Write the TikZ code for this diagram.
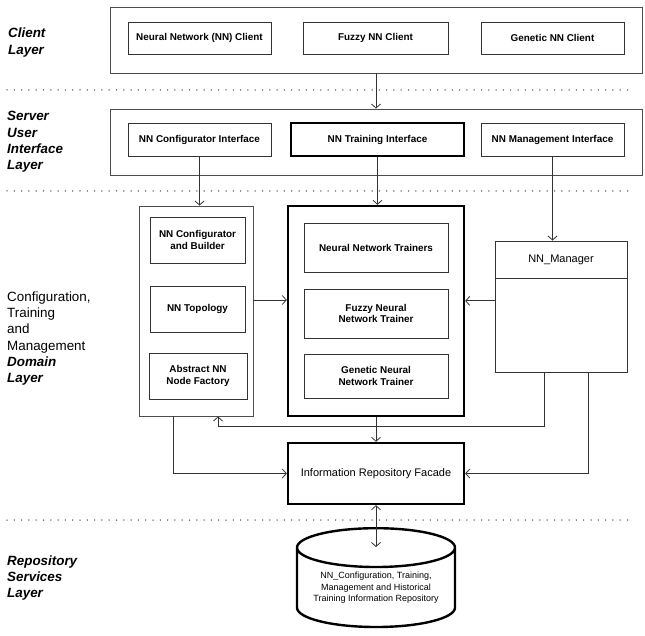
\documentclass[tikz,border=0pt]{standalone}
\usepackage{fontspec}
\setmainfont{Liberation Sans}
\usetikzlibrary{arrows.meta,shapes.geometric}

\tikzset{
  layerbox/.style={draw=black!70, line width=0.9pt, inner sep=0pt},
  compbox/.style={draw=black!80, line width=0.9pt, align=center, inner sep=1pt,
    font=\fontsize{9.9}{11.7}\selectfont\bfseries},
  thickbox/.style={draw=black, line width=2.4pt},
  plainbox/.style={draw=black!80, line width=0.9pt, align=center, inner sep=1pt,
    font=\fontsize{11}{13}\selectfont},
  layerlabel/.style={anchor=west, align=left, inner sep=0pt,
    font=\fontsize{13.4}{16.3}\selectfont},
  layersep/.style={black!70, line width=1.5pt, line cap=round, dash pattern=on 0pt off 7.3pt},
  conn/.style={draw=black!80, line width=0.8pt},
}

\begin{document}
\begin{tikzpicture}[x=1pt,y=-1pt,>={Straight Barb[length=4pt,width=9pt]}]
\useasboundingbox (0,0) rectangle (645,636);

% Layer separators
\draw[layersep] (7,90) -- (634,90);
\draw[layersep] (7,191) -- (634,191);
\draw[layersep] (7,520) -- (634,520);

% Layer names
\node[layerlabel, font=\fontsize{13.4}{16.3}\selectfont\bfseries\itshape] (clientlbl) at (8,42.5) {Client\\Layer};
\node[layerlabel, font=\fontsize{13.4}{16.3}\selectfont\bfseries\itshape] (serverlbl) at (7,142) {Server\\User\\Interface\\Layer};
\node[layerlabel] (domainlbl) at (7,338.5) {Configuration,\\Training\\and\\Management\\\textbf{\textit{Domain}}\\\textbf{\textit{Layer}}};
\node[layerlabel, font=\fontsize{13.4}{16.3}\selectfont\bfseries\itshape] (repolbl) at (7,578) {Repository\\Services\\Layer};

% Client layer
\node[layerbox, minimum width=532, minimum height=66] (client) at (376,40) {};
\node[compbox, minimum width=143, minimum height=32] (nnclient) at (199.5,38) {Neural Network (NN) Client};
\node[compbox, minimum width=145, minimum height=32] (fuzzyclient) at (375.5,38) {Fuzzy NN Client};
\node[compbox, minimum width=143, minimum height=32] (geneticclient) at (552.5,38) {Genetic NN Client};

% Server user interface layer
\node[layerbox, minimum width=532, minimum height=66] (server) at (376,142) {};
\node[compbox, minimum width=143, minimum height=33] (cfgif) at (199.5,139.5) {NN Configurator Interface};
\node[compbox, thickbox, minimum width=173, minimum height=33] (trainif) at (377.5,139.5) {NN Training Interface};
\node[compbox, minimum width=143, minimum height=33] (mgmtif) at (552.5,139.5) {NN Management Interface};

% Domain layer
\node[layerbox, minimum width=114, minimum height=210] (cfgpart) at (196,311) {};
\node[compbox, minimum width=95, minimum height=46] (builder) at (197.5,240) {NN Configurator\\and Builder};
\node[compbox, minimum width=95, minimum height=46] (topology) at (197.5,309) {NN Topology};
\node[compbox, minimum width=98, minimum height=46] (factory) at (198,376) {Abstract NN\\Node Factory};

\node[thickbox, minimum width=176, minimum height=210] (trainpart) at (376,311) {};
\node[compbox, minimum width=144, minimum height=49] (trainers) at (376,247.5) {Neural Network Trainers};
\node[compbox, minimum width=144, minimum height=49] (fuzzytrainer) at (376,313.5) {Fuzzy Neural\\Network Trainer};
\node[compbox, minimum width=144, minimum height=44] (genetictrainer) at (376,376) {Genetic Neural\\Network Trainer};

\node[plainbox, minimum width=132, minimum height=37] (mgrhead) at (561,259.5) {NN\_Manager};
\node[plainbox, minimum width=132, minimum height=94, anchor=north] (mgrbody) at (mgrhead.south) {};

\node[plainbox, thickbox, minimum width=176, minimum height=61] (facade) at (376,473.5) {Information Repository Facade};

% Repository layer
\node[cylinder, shape border rotate=90, draw=black, line width=2.4pt, aspect=0.31,
  minimum width=158, minimum height=40, align=center, anchor=north,
  inner xsep=0pt, inner ysep=4pt,
  font=\fontsize{9}{11.5}\selectfont] (repo) at (376,527)
  {NN\_Configuration, Training,\\Management and Historical\\Training Information Repository};

% Connectors
\draw[conn,->] (client.south) -- (server.north);
\draw[conn,->] (cfgif.south) -- (cfgif.south |- cfgpart.north);
\draw[conn,->] (trainif.south) -- (trainif.south |- trainpart.north);
\draw[conn,->] (mgmtif.south) -- (mgmtif.south |- mgrhead.north);
\draw[conn,->] ([yshift=11pt]cfgpart.east) -- ([yshift=11pt]cfgpart.east -| trainpart.west);
\draw[conn,->] ([yshift=25pt]mgrbody.west) -- ([yshift=25pt]mgrbody.west -| trainpart.east);
\draw[conn,->] (trainpart.south) -- (facade.north);
\draw[conn,->] ([xshift=-23pt]cfgpart.south) |- (facade.west);
\coordinate (feedback) at (218,426);
\draw[conn,->] ([xshift=-17pt]mgrbody.south) |- (feedback) -- ([xshift=22pt]cfgpart.south);
\draw[conn,->] ([xshift=27pt]mgrbody.south) |- (facade.east);
\draw[conn,<->] (facade.south) -- ([yshift=-20pt]repo.north);
\end{tikzpicture}
\end{document}
